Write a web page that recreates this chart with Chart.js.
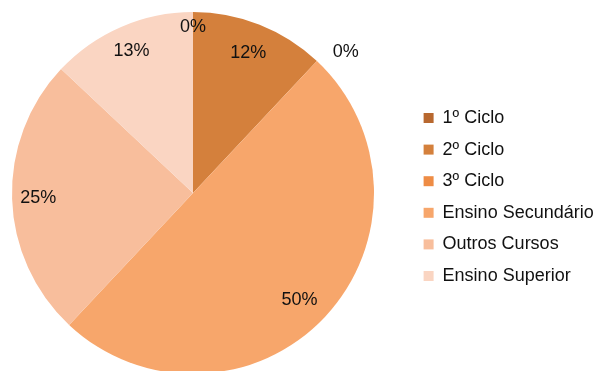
<!DOCTYPE html>
<html>
<head>
<meta charset="utf-8">
<script src="https://cdn.jsdelivr.net/npm/chart.js@4"></script>
<style>
  html, body { margin: 0; padding: 0; background: #fff; overflow: hidden; }
  #wrap { width: 597px; height: 371px; overflow: hidden; }
</style>
</head>
<body>
<div id="wrap">
  <canvas id="pie" width="597" height="386"></canvas>
</div>
<script>
// Nível de escolaridade (percentagens)
var labels = ['1º Ciclo', '2º Ciclo', '3º Ciclo', 'Ensino Secundário', 'Outros Cursos', 'Ensino Superior'];
var values = [0, 12, 0, 50, 25, 13];
var colors = ['#B8682F', '#D4803C', '#EE8C45', '#F7A66B', '#F8BE9C', '#FAD5C2'];

// where each percentage sits, as a fraction of the radius (+ small angle nudge in degrees)
var labelRadius = [0.915, 0.83, 1.15, 0.835, 0.855, 0.855];
var labelNudge = [0, 0, 4, 2, 0, 0];

var FONT = '"Liberation Sans", Arial, sans-serif';
var PIE_AREA_WIDTH = 386;   // pie sits in the left 386px
var LEGEND_SHIFT_X = 24;    // extra gap between pie and legend
var LEGEND_SHIFT_Y = 4;

var percentLabels = {
  id: 'percentLabels',
  afterDatasetsDraw: function(chart) {
    var ctx = chart.ctx;
    var meta = chart.getDatasetMeta(0);
    ctx.save();
    ctx.font = '18px ' + FONT;
    ctx.fillStyle = '#111';
    ctx.textAlign = 'center';
    ctx.textBaseline = 'middle';
    meta.data.forEach(function(arc, i) {
      var p = arc.getProps(['x', 'y', 'startAngle', 'endAngle', 'outerRadius'], true);
      var a = (p.startAngle + p.endAngle) / 2 + labelNudge[i] * Math.PI / 180;
      var r = p.outerRadius * labelRadius[i];
      ctx.fillText(values[i] + '%', p.x + Math.cos(a) * r, p.y + Math.sin(a) * r);
    });
    ctx.restore();
  }
};

// give the legend a fixed width and push its items a bit to the right
var legendPlacement = {
  id: 'legendPlacement',
  beforeInit: function(chart) {
    var legend = chart.legend;
    var fit = legend.fit;
    legend.fit = function() {
      fit.call(this);
      this.width = chart.width - PIE_AREA_WIDTH;
    };
  },
  afterLayout: function(chart) {
    var legend = chart.legend;
    legend.left += LEGEND_SHIFT_X;
    legend.right += LEGEND_SHIFT_X;
    legend.top += LEGEND_SHIFT_Y;
    legend.bottom += LEGEND_SHIFT_Y;
  }
};

new Chart(document.getElementById('pie').getContext('2d'), {
  type: 'pie',
  data: {
    labels: labels,
    datasets: [{
      data: values,
      backgroundColor: colors,
      borderWidth: 0
    }]
  },
  options: {
    responsive: false,
    animation: false,
    layout: { padding: { left: 0, top: 12, bottom: 12, right: 0 } },
    plugins: {
      tooltip: { enabled: false },
      legend: {
        position: 'right',
        labels: {
          boxWidth: 10,
          boxHeight: 10,
          padding: 13.6,
          color: '#111',
          font: { family: FONT, size: 18 }
        }
      }
    }
  },
  plugins: [legendPlacement, percentLabels]
});
</script>
</body>
</html>
